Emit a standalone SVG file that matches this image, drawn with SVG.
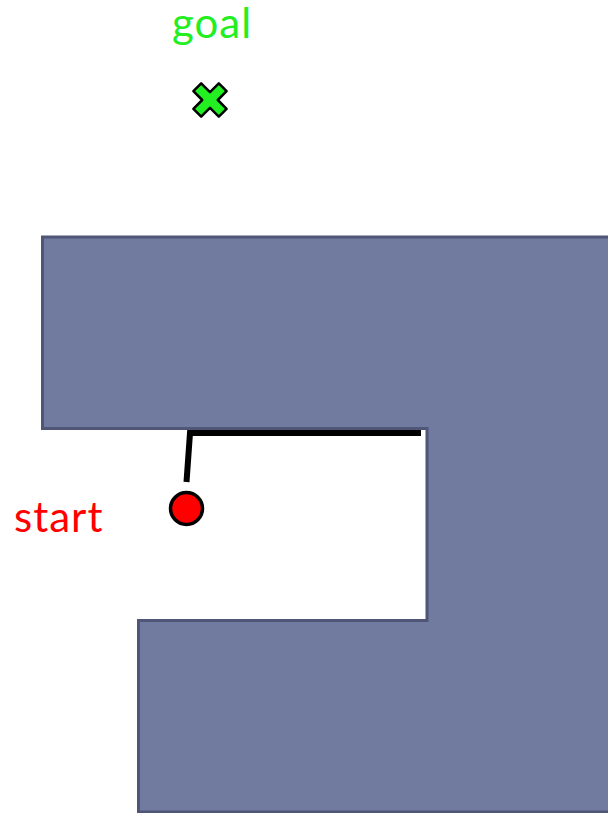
<svg xmlns="http://www.w3.org/2000/svg" width="608" height="813" viewBox="0 0 608 813">
<style>
.lbl{font-family:Lato,"Liberation Sans",sans-serif;font-size:42px;letter-spacing:1px}
.wall{fill:#717BA0;stroke:#4F5677;stroke-width:3}
.path{fill:none;stroke:#000;stroke-width:6}
</style>
<rect width="608" height="813" fill="#fff"/>
<g id="obstacle">
<polygon class="wall" points="42.5,237 612,237 612,812 138.5,812 138.5,620.5 427,620.5 427,428.5 42.5,428.5"/>
</g>
<g id="connectors">
<polyline class="path" points="186.5,482 190,433 421,433"/>
</g>
<g id="start">
<circle cx="186.5" cy="508.5" r="16" fill="#FF0000" stroke="#000" stroke-width="3.5"/>
<text class="lbl" x="14" y="532" fill="#FF0000">start</text>
</g>
<g id="goal">
<polygon transform="translate(210,100) rotate(45)" points="-5.5,-18 5.5,-18 5.5,-5.5 18,-5.5 18,5.5 5.5,5.5 5.5,18 -5.5,18 -5.5,5.5 -18,5.5 -18,-5.5 -5.5,-5.5" fill="#22EE22" stroke="#000" stroke-width="2.5" stroke-linejoin="round"/>
<text class="lbl" x="212" y="38" fill="#22EE22" text-anchor="middle">goal</text>
</g>
</svg>
